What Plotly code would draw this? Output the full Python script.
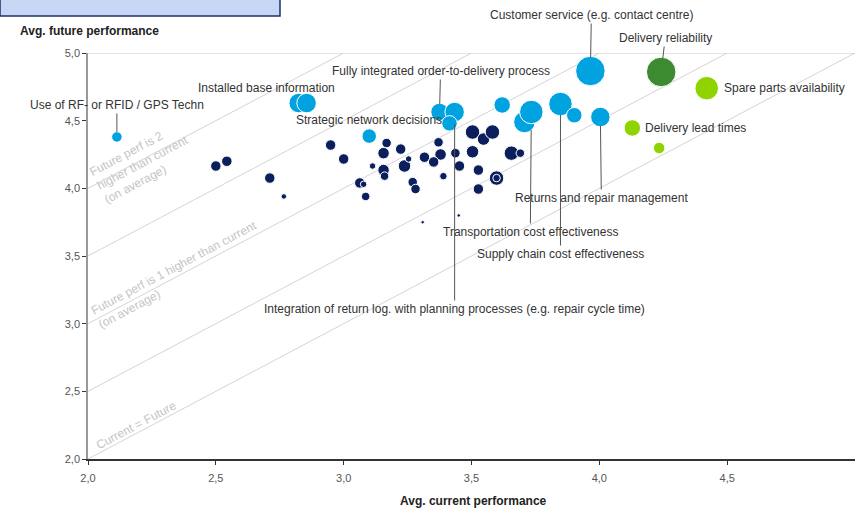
import plotly.graph_objects as go

# --- data ---
# navy: unlabelled topics
navy_x = [2.50, 2.543, 2.711, 2.766, 2.949, 3.0, 3.063, 3.078, 3.086, 3.113,
          3.168, 3.156, 3.223, 3.156, 3.16, 3.238, 3.254, 3.316, 3.27, 3.281,
          3.309, 3.371, 3.379, 3.352, 3.39, 3.437, 3.453, 3.45, 3.504, 3.547,
          3.582, 3.504, 3.527, 3.598, 3.598, 3.527, 3.656, 3.691]
navy_y = [4.165, 4.20, 4.076, 3.94, 4.32, 4.217, 4.04, 4.03, 3.94, 4.165,
          4.335, 4.26, 4.29, 4.135, 4.09, 4.165, 4.217, 4.23, 4.046, 3.995,
          3.75, 4.34, 4.25, 4.195, 4.09, 4.26, 4.165, 3.80, 4.416, 4.364,
          4.416, 4.27, 4.135, 4.076, 4.076, 3.995, 4.26, 4.26]
navy_w = [9, 9, 9, 4, 9, 9, 9, 5, 7, 5,
          8, 10, 9, 10, 7, 11, 5, 9, 8, 8,
          2, 8, 10, 9, 6, 8, 9, 2, 13, 11,
          13, 11, 9, 13, 6, 9, 13, 7]

# light blue
lb_names = ["Use of RF- or RFID / GPS Techn", "Installed base information", "",
            "Strategic network decisions", "Fully integrated order-to-delivery process",
            "Integration of return log. with planning processes (e.g. repair cycle time)",
            "", "", "", "Transportation cost effectiveness", "Supply chain cost effectiveness",
            "", "Returns and repair management", "Customer service (e.g. contact centre)"]
lb_x = [2.113, 2.824, 2.855, 3.10, 3.375, 3.434, 3.414, 3.62, 3.707, 3.734, 3.848, 3.902, 4.004, 3.965]
lb_y = [4.38, 4.63, 4.63, 4.386, 4.564, 4.564, 4.48, 4.616, 4.49, 4.564, 4.623, 4.54, 4.527, 4.867]
lb_w = [9, 18, 18, 13, 16, 18, 14, 15, 20, 22, 22, 14, 18, 28]

# dark green
dg_names = ["Delivery reliability"]
dg_x = [4.242]
dg_y = [4.86]
dg_w = [28]

# light green
lg_names = ["Spare parts availability", "Delivery lead times", ""]
lg_x = [4.42, 4.129, 4.234]
lg_y = [4.74, 4.446, 4.298]
lg_w = [22, 15, 10]

diag_offsets = [0, 0.5, 1, 1.5, 2]

FONT = "Liberation Sans, Arial, sans-serif"
NAVY = "#0b1f5c"
LBLUE = "#00a3e0"
DGREEN = "#3d8b30"
LGREEN = "#8fd400"

fig = go.Figure()

for xs, ys, ws, col in [(navy_x, navy_y, navy_w, NAVY),
                        (lb_x, lb_y, lb_w, LBLUE),
                        (dg_x, dg_y, dg_w, DGREEN),
                        (lg_x, lg_y, lg_w, LGREEN)]:
    fig.add_trace(go.Scatter(
        x=xs, y=ys, mode="markers",
        marker=dict(size=[w + 1.5 for w in ws], color=col, opacity=1,
                    line=dict(color="white", width=1)),
        hoverinfo="x+y", showlegend=False, cliponaxis=False,
    ))

# diagonal reference lines
for k in diag_offsets:
    fig.add_shape(type="line", x0=2, y0=2 + k, x1=5 - k, y1=5,
                  line=dict(color="#d4d4d4", width=1), layer="below")
fig.add_shape(type="line", x0=2, y0=5, x1=5, y1=5,
              line=dict(color="#c8c8c8", width=1), layer="below")

# title box (cut off at the top)
fig.add_shape(type="rect", xref="paper", yref="paper", x0=-88 / 767, x1=192 / 767,
              y0=(406 + 37) / 406, y1=1.2, fillcolor="#c6d6f4",
              line=dict(color="#1f2f66", width=1.5))

annots = []

def arrow_label(text, x, y, ax, ay, r):
    annots.append(dict(x=x, y=y, text=text, showarrow=True, arrowhead=0,
                       arrowwidth=1, arrowcolor="#555555", ax=ax, ay=ay,
                       standoff=r, font=dict(size=12, color="#333333", family=FONT)))

def plain_label(text, x, y, anchor, xshift, yshift):
    annots.append(dict(x=x, y=y, text=text, showarrow=False, xanchor=anchor,
                       xshift=xshift, yshift=yshift,
                       font=dict(size=12, color="#333333", family=FONT)))

arrow_label(lb_names[0], lb_x[0], lb_y[0], 0, -32, 5)
plain_label(lb_names[1], lb_x[1], lb_y[1], "center", -32, 15)
plain_label(lb_names[3], lb_x[3], lb_y[3], "center", 0, 16)
arrow_label(lb_names[4], lb_x[4], lb_y[4], 1, -41, 8)
arrow_label(lb_names[5], lb_x[5], lb_y[5], 0, 197, 12)
arrow_label(lb_names[9], lb_x[9], lb_y[9], -1, 120, 18)
arrow_label(lb_names[10], lb_x[10], lb_y[10], 0, 150, 11)
arrow_label(lb_names[12], lb_x[12], lb_y[12], 1, 81, 9)
arrow_label(lb_names[13], lb_x[13], lb_y[13], 1, -56, 14)
arrow_label(dg_names[0], dg_x[0], dg_y[0], 4, -34, 14)
plain_label(lg_names[0], lg_x[0], lg_y[0], "left", 15, 0)
plain_label(lg_names[1], lg_x[1], lg_y[1], "left", 11, 0)

# gray diagonal captions
for text, x, y in [("Future perf is 2<br>higher than current<br>(on average)", 2.215, 4.19),
                   ("Future perf is 1 higher than current<br>(on average)", 2.35, 3.36),
                   ("Current = Future", 2.19, 2.25)]:
    annots.append(dict(x=x, y=y, text=text, showarrow=False, textangle=-28,
                       align="left", font=dict(size=12, color="#c4c4c4", family=FONT)))

# axis titles
annots.append(dict(xref="paper", yref="paper", x=-70 / 767, y=(406 + 22) / 406,
                   xanchor="left", yanchor="middle", showarrow=False,
                   text="<b>Avg. future performance</b>",
                   font=dict(size=12, color="#222222", family=FONT)))
annots.append(dict(xref="paper", yref="paper", x=385 / 767, y=-42 / 406,
                   xanchor="center", yanchor="middle", showarrow=False,
                   text="<b>Avg. current performance</b>",
                   font=dict(size=12, color="#222222", family=FONT)))

fig.update_layout(
    width=855, height=509,
    margin=dict(l=88, r=0, t=53, b=50),
    plot_bgcolor="white", paper_bgcolor="white",
    separators=",.",
    annotations=annots,
    font=dict(family=FONT, size=11, color="#555555"),
    xaxis=dict(range=[2, 5], dtick=0.5, tickformat=".1f", showgrid=False,
               zeroline=False, showline=True, linecolor="#333333", linewidth=1.5,
               ticks="outside", ticklen=4, tickcolor="#333333", ticklabelstandoff=4),
    yaxis=dict(range=[2, 5], dtick=0.5, tickformat=".1f", showgrid=False,
               zeroline=False, showline=True, linecolor="#999999", linewidth=1.5,
               ticks="outside", ticklen=4, tickcolor="#333333"),
)

# the page's default body margin would push the figure off by 8 px
fig.write_html("out.html", config={"displayModeBar": False},
               post_script="document.body.style.margin='0';")
